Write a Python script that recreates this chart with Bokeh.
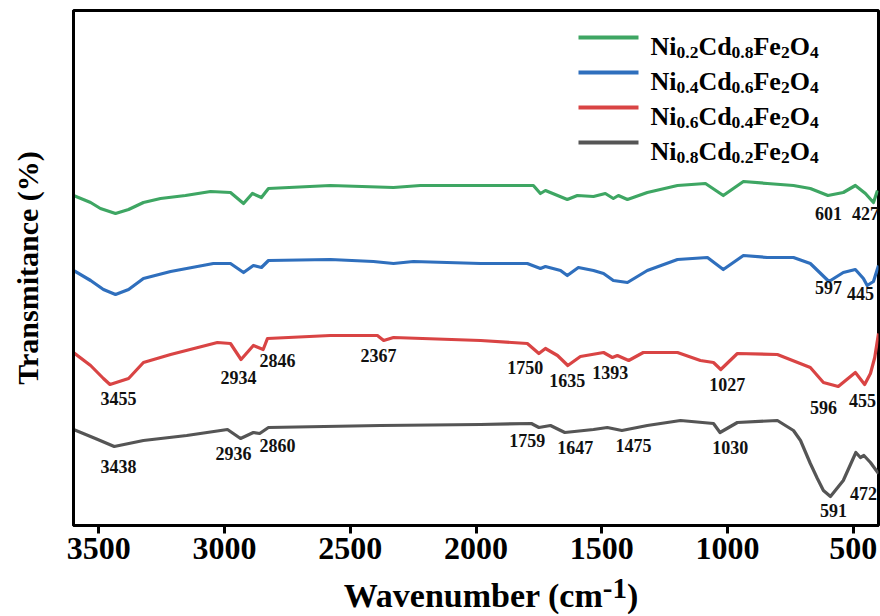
from bokeh.plotting import figure
from bokeh.models import Range1d, FixedTicker, Label, Div
from bokeh.layouts import column
from bokeh.embed import file_html
from bokeh.resources import INLINE

# ---------------- data (wavenumber cm-1, offset transmittance a.u.) ----------------
wn_g = [3600, 3532, 3493, 3433, 3381, 3322, 3254, 3155, 3055, 2976, 2924, 2889, 2853, 2825,
        2579, 2328, 2221, 1772, 1744, 1724, 1637, 1597, 1533, 1486, 1454, 1434, 1398, 1319,
        1199, 1088, 1017, 937, 842, 738, 671, 601, 540, 492, 452, 420, 404]
tr_g = [330, 323, 317, 312, 316, 323, 327, 330, 334, 333, 322, 332, 328, 337,
        340, 338, 340, 340, 332, 335, 326, 330, 329, 332, 327, 330, 326, 333,
        340, 342, 330, 344, 342, 340, 337, 330, 333, 340, 332, 323, 335]

wn_b = [3600, 3532, 3481, 3433, 3381, 3322, 3214, 3044, 2976, 2924, 2885, 2853, 2825, 2579,
        2408, 2328, 2249, 1982, 1796, 1744, 1724, 1664, 1637, 1593, 1533, 1493, 1454, 1398,
        1319, 1199, 1080, 1017, 937, 842, 738, 671, 597, 540, 492, 460, 445, 420, 400]
tr_b = [255, 245, 236, 231, 236, 247, 254, 262, 262, 253, 260, 258, 265, 266,
        264, 262, 264, 262, 262, 257, 259, 255, 250, 258, 255, 252, 245, 243,
        255, 266, 268, 256, 270, 268, 268, 262, 244, 253, 256, 247, 240, 244, 260]

wn_r = [3600, 3532, 3481, 3455, 3381, 3322, 3214, 3028, 2976, 2934, 2885, 2846, 2829, 2579,
        2392, 2367, 2328, 1982, 1796, 1750, 1724, 1676, 1635, 1585, 1493, 1458, 1438, 1393,
        1335, 1199, 1108, 1056, 1027, 961, 802, 671, 619, 560, 492, 455, 432, 415, 400]
tr_r = [173, 160, 147, 141, 147, 163, 171, 183, 182, 166, 180, 176, 187, 190,
        190, 185, 188, 185, 182, 172, 177, 170, 160, 169, 173, 168, 170, 165,
        173, 173, 165, 163, 156, 172, 171, 158, 143, 139, 153, 141, 152, 168, 192]

wn_k = [3600, 3513, 3438, 3322, 3150, 2988, 2936, 2885, 2860, 2825, 2380, 1982, 1780, 1750,
        1704, 1647, 1533, 1478, 1420, 1319, 1187, 1056, 1030, 961, 802, 738, 710, 671,
        643, 619, 591, 540, 490, 472, 458, 432, 400]
tr_k = [96, 87, 79, 85, 90, 96, 87, 93, 92, 98, 100, 101, 102, 98,
        100, 93, 96, 98, 95, 100, 105, 102, 93, 103, 105, 95, 85, 62,
        47, 35, 29, 45, 73, 68, 70, 63, 52]

series_names = ["Ni0.2Cd0.8Fe2O4", "Ni0.4Cd0.6Fe2O4", "Ni0.6Cd0.4Fe2O4", "Ni0.8Cd0.2Fe2O4"]
legend_subs = [("0.2", "0.8"), ("0.4", "0.6"), ("0.6", "0.4"), ("0.8", "0.2")]
colors = ["#3ea663", "#2f6fbd", "#d94444", "#555555"]

# peak annotations: text, x (wavenumber), y (a.u.)
lab_g_txt = ["601", "427"]
lab_g_x = [599, 452]
lab_g_y = [312, 312]
lab_b_txt = ["597", "445"]
lab_b_x = [599, 472]
lab_b_y = [238, 232]
lab_r_txt = ["3455", "2934", "2846", "2367", "1750", "1635", "1393", "1027", "596", "455"]
lab_r_x = [3421, 2944, 2789, 2388, 1804, 1637, 1466, 1001, 619, 464]
lab_r_y = [127, 148, 165, 170, 158, 145, 153, 141, 118, 125]
lab_k_txt = ["3438", "2936", "2860", "1759", "1647", "1475", "1030", "591", "472"]
lab_k_x = [3421, 2964, 2789, 1796, 1605, 1374, 989, 579, 460]
lab_k_y = [59, 72, 80, 85, 78, 80, 78, 15, 32]

x_ticks = [3500, 3000, 2500, 2000, 1500, 1000, 500]

# ---------------- layout ----------------
W, H = 880, 586
FL, FR, FT, FB = 73, 2, 10, 61
FW = W - FL - FR
FH = H - FT - FB
X0, X1 = 3600, 400
FONT = "Liberation Serif"


def wx(px):
    """canvas x pixel -> wavenumber"""
    return X0 - (px - FL) * (X0 - X1) / FW


def ty(py):
    """canvas y pixel -> y data"""
    return (H - FB) - py


p = figure(width=W, height=H, output_backend="svg", toolbar_location=None,
           x_range=Range1d(X0, X1), y_range=Range1d(0, FH),
           min_border_left=FL, min_border_right=FR, min_border_top=FT, min_border_bottom=FB)
p.background_fill_color = "white"
p.border_fill_color = "white"
p.outline_line_color = "black"
p.outline_line_width = 3
p.xgrid.grid_line_color = None
p.ygrid.grid_line_color = None

# x axis
xa = p.xaxis[0]
xa.ticker = FixedTicker(ticks=x_ticks)
xa.minor_tick_line_color = None
xa.major_tick_in = 0
xa.major_tick_out = 8
xa.major_tick_line_width = 3
xa.major_tick_line_color = "black"
xa.axis_line_color = "black"
xa.axis_line_width = 3
xa.major_label_text_font = FONT
xa.major_label_text_font_style = "bold"
xa.major_label_text_font_size = "32px"
xa.major_label_text_color = "black"
xa.major_label_standoff = 4
xa.axis_label = None

# y axis
ya = p.yaxis[0]
ya.ticker = FixedTicker(ticks=[])
ya.minor_tick_line_color = None
ya.major_tick_line_color = None
ya.major_tick_out = 0
ya.major_tick_in = 0
ya.major_label_standoff = 0
ya.major_label_text_font_size = "0px"
ya.axis_line_color = "black"
ya.axis_line_width = 3
ya.axis_label = "Transmitance (%)"
ya.axis_label_text_font = FONT
ya.axis_label_text_font_style = "bold"
ya.axis_label_text_font_size = "30px"
ya.axis_label_text_color = "black"
ya.axis_label_standoff = 30

# curves
for wn, tr, c in [(wn_g, tr_g, colors[0]), (wn_b, tr_b, colors[1]),
                  (wn_r, tr_r, colors[2]), (wn_k, tr_k, colors[3])]:
    p.line(wn, tr, line_color=c, line_width=3.2, line_join="round")

# peak labels
for txts, xs, ys in [(lab_g_txt, lab_g_x, lab_g_y), (lab_b_txt, lab_b_x, lab_b_y),
                     (lab_r_txt, lab_r_x, lab_r_y), (lab_k_txt, lab_k_x, lab_k_y)]:
    for t, x, y in zip(txts, xs, ys):
        p.add_layout(Label(x=x, y=y, text=t, text_font=FONT, text_font_style="bold",
                           text_font_size="18px", text_color="#111111",
                           text_align="center", text_baseline="middle"))

# text width helper (Times bold metrics)
MET = {"N": 722, "i": 278, "C": 722, "d": 556, "F": 611, "e": 444, "O": 778, ".": 250}


def tw(s, size):
    return sum(MET.get(ch, 500) for ch in s) * size / 1000.0


# legend (lines + composed sub-scripted labels)
LEG_X0, LEG_X1, LEG_TX = 578, 638, 650
leg_rows = [37, 72, 107, 142]
FMAIN, FSUB = 26, 17.5
for name_subs, c, row in zip(legend_subs, colors, leg_rows):
    p.segment(x0=[wx(LEG_X0)], y0=[ty(row)], x1=[wx(LEG_X1)], y1=[ty(row)],
              line_color=c, line_width=4)
    pieces = [("Ni", False), (name_subs[0], True), ("Cd", False), (name_subs[1], True),
              ("Fe", False), ("2", True), ("O", False), ("4", True)]
    off = 0.0
    for txt, sub in pieces:
        size = FSUB if sub else FMAIN
        p.add_layout(Label(x=wx(LEG_TX), y=ty(row), x_offset=off,
                           y_offset=(-15 if sub else -9), text=txt,
                           text_font=FONT, text_font_style="bold",
                           text_font_size=f"{size}px", text_color="black",
                           text_align="left", text_baseline="alphabetic"))
        off += tw(txt, size)

# x axis title (with superscript) below the plot
title = Div(
    text=('<div style="width:880px; box-sizing:border-box; padding-left:102px; '
          'text-align:center; font-family:\'Liberation Serif\'; font-weight:bold; '
          'font-size:34px; line-height:19px; color:black; white-space:nowrap;">'
          'Wavenumber (cm<span style="position:relative; top:-9px; font-size:29px;">-1</span>)'
          '</div>'),
    width=W, height=616 - H, margin=(0, 0, 0, 0))

layout = column(p, title, spacing=0)
open("out.html", "w").write(file_html(layout, INLINE))
